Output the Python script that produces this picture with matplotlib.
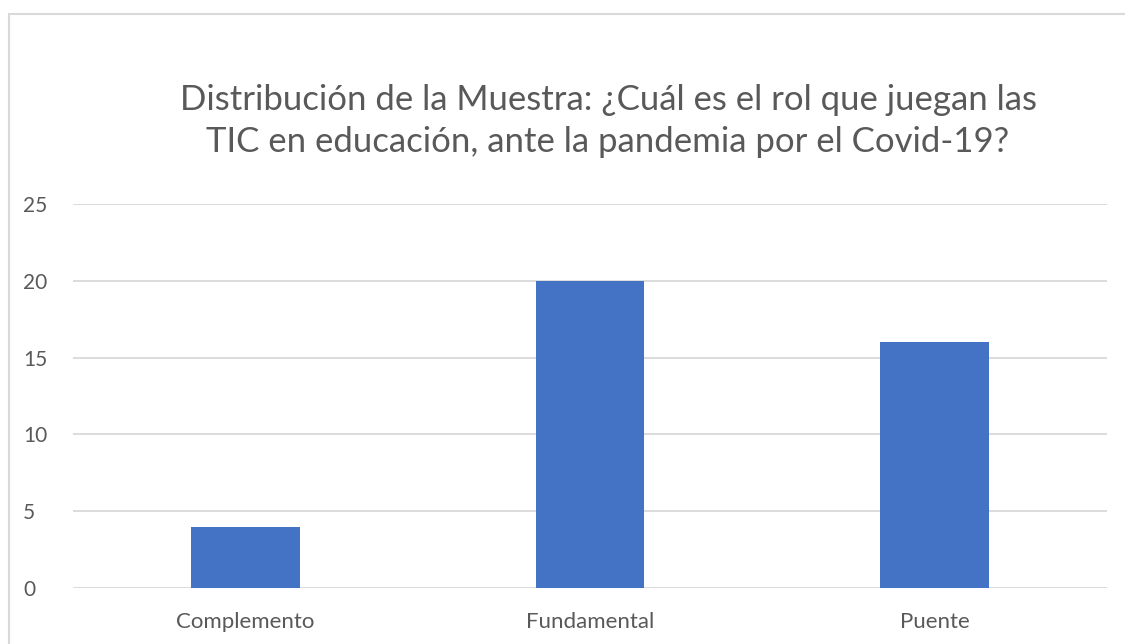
import matplotlib.pyplot as plt
from matplotlib.patches import Rectangle

categorias = ["Complemento", "Fundamental", "Puente"]
valores = [4, 20, 16]
ticks_y = [0, 5, 10, 15, 20, 25]

plt.rcParams['font.family'] = ['Lato', 'DejaVu Sans']
gris = '#595959'

fig = plt.figure(figsize=(11.25, 6.44), dpi=100)
ax = fig.add_axes([73/1125, 1-588/644, 1034/1125, 384/644])

x = range(len(categorias))
ax.bar(x, valores, width=0.315, color='#4472c4', zorder=3)
ax.set_xlim(-0.5, 2.5)
ax.set_ylim(0, 25)
ax.set_yticks(ticks_y)
ax.set_xticks(list(x))
ax.set_xticklabels(categorias)
ax.tick_params(length=0, labelsize=16, colors=gris, pad=17)
ax.tick_params(axis='y', labelsize=15, pad=36)
for lab in ax.get_yticklabels():
    lab.set_horizontalalignment('left')
ax.grid(axis='y', color='#d9d9d9', linewidth=1.3, zorder=0)
for s in ax.spines.values():
    s.set_visible(False)

fig.text(608/1125, 1-121/644,
         "Distribución de la Muestra: ¿Cuál es el rol que juegan las\nTIC en educación, ante la pandemia por el Covid-19?",
         ha='center', va='center', fontsize=25, color=gris, linespacing=1.35)

# marco del grafico (recortado a la derecha y abajo)
fig.patches.append(Rectangle((9/1125, -0.1), 1.2, 1.1 - 14/644, transform=fig.transFigure,
                             fill=False, edgecolor='#d9d9d9', linewidth=1.5))

fig.savefig("out.png", dpi=100)
